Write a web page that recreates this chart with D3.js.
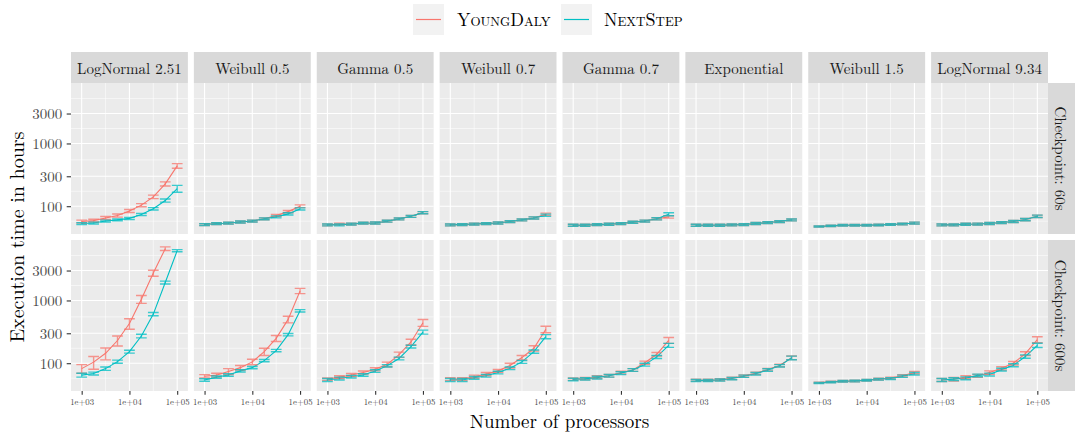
<!DOCTYPE html>
<html>
<head>
<meta charset="utf-8">
<script src="https://cdn.jsdelivr.net/npm/d3@7"></script>
<style>
  html, body { margin: 0; padding: 0; background: #ffffff; }
  svg { display: block; font-family: "Latin Modern Roman", "CMU Serif", "Liberation Serif", "Times New Roman", serif; }
</style>
</head>
<body>
<svg id="chart" width="1076" height="434"></svg>
<script>
// ---- data -------------------------------------------------------------
const distributions = ["LogNormal 2.51", "Weibull 0.5", "Gamma 0.5", "Weibull 0.7",
                       "Gamma 0.7", "Exponential", "Weibull 1.5", "LogNormal 9.34"];
const checkpoints = ["Checkpoint: 60s", "Checkpoint: 600s"];
const seriesNames = ["YoungDaly", "NextStep"];
const processors = [1000, 1778, 3162, 5623, 10000, 17783, 31623, 56234, 100000];
const yTicks = [100, 300, 1000, 3000];
const xTicks = [1000, 10000, 100000];
const xTickLabels = ["1e+03", "1e+04", "1e+05"];

// mean execution time (hours), one row per distribution
const youngDaly60 = [
  [57, 59, 65, 71, 84, 104, 141, 227, 440],
  [51, 53, 53.6, 56, 58, 63, 71, 82, 100],
  [50.4, 52, 52, 53.6, 54, 57.7, 62.8, 69, 79],
  [50.4, 51, 52, 53, 54, 57, 60.5, 65, 74.5],
  [49.8, 49.8, 51, 51.6, 53, 55.6, 58, 63, 67.6],
  [49.8, 49.8, 49.8, 50.4, 51, 53, 54.9, 57, 60.5],
  [47.4, 48.6, 49.8, 49.8, 49.8, 50.4, 51, 52, 54],
  [50.4, 50.4, 51.6, 52, 53, 54.9, 57, 61.3, 69]
];
const youngDaly60Sd = [
  [3, 3, 3.5, 4, 4.5, 6, 9, 17, 37],
  [1.8, 1.8, 1.8, 2, 2, 2.2, 2.8, 3.5, 5],
  [1.8, 1.8, 1.8, 1.8, 2, 2, 2.2, 2.5, 3],
  [1.8, 1.8, 1.8, 1.8, 2, 2, 2.2, 2.5, 3],
  [1.8, 1.8, 1.8, 1.8, 1.8, 2, 2, 2.5, 3],
  [1.8, 1.8, 1.8, 1.8, 1.8, 2, 2, 2, 2.2],
  [1, 1.2, 1.5, 1.5, 1.5, 1.5, 1.5, 1.5, 1.8],
  [1.8, 1.8, 1.8, 1.8, 2, 2, 2.2, 2.5, 3]
];
const nextStep60 = [
  [53, 54, 58, 60.5, 64, 74, 91, 123, 191],
  [51, 53, 53.6, 56, 58, 63, 67.6, 75.5, 90.6],
  [50.4, 50.4, 52, 53.6, 54, 57.7, 62.8, 69, 79],
  [50.4, 51, 52, 53, 54, 57, 60.5, 65, 71.9],
  [49.8, 49.8, 51, 51.6, 53, 55.6, 58, 63, 74.5],
  [49.8, 49.8, 49.8, 50.4, 51, 53, 54.9, 57, 60.5],
  [47.4, 48.6, 49.8, 49.8, 49.8, 50.4, 51, 52, 54],
  [50.4, 50.4, 51.6, 52, 53, 54.9, 57, 61.3, 69]
];
const nextStep60Sd = [
  [1.8, 1.8, 2, 2, 2.5, 3, 4, 7, 24],
  [1.8, 1.8, 1.8, 2, 2, 2.2, 2.5, 3, 3.5],
  [1.8, 1.8, 1.8, 1.8, 2, 2, 2.2, 2.5, 3],
  [1.8, 1.8, 1.8, 1.8, 2, 2, 2.2, 2.5, 3],
  [1.8, 1.8, 1.8, 1.8, 1.8, 2, 2, 2.5, 4],
  [1.8, 1.8, 1.8, 1.8, 1.8, 2, 2, 2, 2.2],
  [1, 1.2, 1.5, 1.5, 1.5, 1.5, 1.5, 1.5, 1.8],
  [1.8, 1.8, 1.8, 1.8, 2, 2, 2.2, 2.5, 3]
];
const youngDaly600 = [
  [82, 104, 144, 230, 430, 1048, 2730, 6700, null],
  [62, 64.6, 74, 85, 105, 153, 249, 499, 1422],
  [55.7, 60, 65, 71, 80, 96, 137, 218, 442],
  [55.7, 55.7, 61, 67, 75.5, 92, 123, 173, 347],
  [55.7, 57, 60, 63, 71, 78, 102, 139, 232],
  [53.5, 53.5, 54.5, 57.5, 62.5, 69, 79, 92, 122],
  [49, 50.6, 51.8, 52, 53.7, 55.7, 58, 63, 71],
  [54, 55.7, 60, 63, 71, 83, 100, 142, 238]
];
const youngDaly600Sd = [
  [13, 24, 31, 42, 82, 150, 300, 450, null],
  [3.8, 4.5, 8, 7, 10.5, 20, 27, 60, 136],
  [2.5, 3, 3.5, 4, 4.5, 8, 13, 23, 55],
  [3, 3, 3.5, 4, 4, 8, 10, 17, 42],
  [2.5, 2.5, 3, 3, 3.5, 4, 6, 9, 25],
  [2, 2, 2, 2.5, 2.5, 3, 3.5, 4, 8],
  [1, 1.2, 1.5, 1.5, 1.5, 1.8, 2, 2.5, 3],
  [3, 3.5, 3.5, 3.5, 4.5, 5, 6.5, 10, 26]
];
const nextStep600 = [
  [64.5, 68.5, 82, 106, 153, 271, 607, 1931, 6220],
  [54, 60, 65, 75.5, 85, 110, 159, 285, 685],
  [54, 57, 61, 65, 75, 91, 119, 184, 314],
  [54, 54, 58.5, 63, 71, 83, 105, 153, 265],
  [55, 56.5, 59, 63, 69.5, 78, 95, 126, 193],
  [53, 53, 54, 57, 62, 68, 78, 91, 121.6],
  [48.5, 50, 51.5, 52, 53.5, 55.5, 57, 62, 68],
  [54, 55.7, 57.6, 64, 66, 79, 93, 128, 193]
];
const nextStep600Sd = [
  [4.5, 3.5, 5, 6, 8, 18, 35, 100, 230],
  [2.5, 2.5, 3, 3, 3.5, 4.5, 7, 12, 30],
  [3, 3, 3, 3, 3.5, 4, 6, 9, 23],
  [3, 3, 3, 3, 3.5, 4, 5.5, 9, 20],
  [2.5, 2.5, 3, 3, 3.5, 4, 5, 7, 14],
  [2, 2, 2, 2.5, 2.5, 3, 3.5, 4, 8],
  [1, 1.2, 1.5, 1.5, 1.5, 1.8, 2, 2.5, 3],
  [3, 3, 3, 3, 3.5, 4, 5, 8, 15]
];

// ---- layout -----------------------------------------------------------
const colors = ["#F8766D", "#00BFC4"];
const plotLeft = 71, plotRight = 1048;
const stripTop = 52, stripH = 31, rightStripW = 27;
const gap = 6;
const nCol = distributions.length;
const panelW = (plotRight - plotLeft - gap * (nCol - 1)) / nCol;
const panelH = 151;
const panelTop0 = stripTop + stripH;

const means = [[youngDaly60, nextStep60], [youngDaly600, nextStep600]];
const sds = [[youngDaly60Sd, nextStep60Sd], [youngDaly600Sd, nextStep600Sd]];

// records per checkpoint / distribution / series
const records = [];
checkpoints.forEach((cp, r) => distributions.forEach((dist, c) => seriesNames.forEach((s, si) => {
  processors.forEach((p, k) => {
    const m = means[r][si][c][k];
    if (m == null) return;
    const sd = sds[r][si][c][k];
    records.push({ r, c, si, p, m, lo: m - sd, hi: m + sd });
  });
})));

// errorbar width: 0.9 x the spacing of processor counts (log10 units)
const lp = processors.map(Math.log10);
const step = d3.min(d3.pairs(lp), ([a, b]) => b - a);
const halfBar = 0.9 * step / 2;

// ggplot-style 5% expansion on log scales
function expand(lo, hi) { const d = (hi - lo) * 0.05; return [lo - d, hi + d]; }
const xLog = expand(d3.min(lp) - halfBar, d3.max(lp) + halfBar);
const yLog = expand(Math.log10(d3.min(records, d => d.lo)), Math.log10(d3.max(records, d => d.hi)));

const x = d3.scaleLog().domain(xLog.map(v => 10 ** v)).range([0, panelW]);
const y = d3.scaleLog().domain(yLog.map(v => 10 ** v)).range([panelH, 0]);

// minor breaks half-way between major breaks (in log space), extended once each side
function minorBreaks(majors, domainLog) {
  const b = majors.map(Math.log10);
  const bd = b[1] - b[0];
  const ext = [b[0] - bd, ...b, b[b.length - 1] + bd];
  const out = [];
  for (let i = 0; i < ext.length - 1; i++) out.push((ext[i] + ext[i + 1]) / 2);
  return out.filter(v => v > domainLog[0] && v < domainLog[1]).map(v => 10 ** v);
}
const yMinor = minorBreaks(yTicks, yLog);
const xMinor = minorBreaks(xTicks, xLog);

const svg = d3.select("#chart");

// ---- legend -----------------------------------------------------------
const legendItems = [{ key: 413, text: 457 }, { key: 561, text: 604 }];
seriesNames.forEach((s, i) => {
  const g = svg.append("g");
  g.append("rect").attr("x", legendItems[i].key).attr("y", 4).attr("width", 31).attr("height", 31).attr("fill", "#F2F2F2");
  g.append("line").attr("x1", legendItems[i].key + 3).attr("x2", legendItems[i].key + 28)
    .attr("y1", 19.5).attr("y2", 19.5).attr("stroke", colors[i]).attr("stroke-width", 1.2);
  g.append("text").attr("x", legendItems[i].text).attr("y", 26)
    .attr("font-size", 18).attr("fill", "#000").style("font-variant", "small-caps").text(s);
});

// ---- panels -----------------------------------------------------------
const line = d3.line().x(d => x(d.p)).y(d => y(d.m));

checkpoints.forEach((cp, r) => {
  const top = panelTop0 + r * (panelH + gap);
  distributions.forEach((dist, c) => {
    const left = plotLeft + c * (panelW + gap);
    const g = svg.append("g").attr("transform", `translate(${left},${top})`);

    g.append("rect").attr("width", panelW).attr("height", panelH).attr("fill", "#EBEBEB");

    // grid
    g.selectAll(".ymin").data(yMinor).join("line")
      .attr("x1", 0).attr("x2", panelW).attr("y1", d => y(d)).attr("y2", d => y(d))
      .attr("stroke", "#fff").attr("stroke-width", 0.55);
    g.selectAll(".xmin").data(xMinor).join("line")
      .attr("y1", 0).attr("y2", panelH).attr("x1", d => x(d)).attr("x2", d => x(d))
      .attr("stroke", "#fff").attr("stroke-width", 0.55);
    g.selectAll(".ymaj").data(yTicks).join("line")
      .attr("x1", 0).attr("x2", panelW).attr("y1", d => y(d)).attr("y2", d => y(d))
      .attr("stroke", "#fff").attr("stroke-width", 1.1);
    g.selectAll(".xmaj").data(xTicks).join("line")
      .attr("y1", 0).attr("y2", panelH).attr("x1", d => x(d)).attr("x2", d => x(d))
      .attr("stroke", "#fff").attr("stroke-width", 1.1);

    const recs = records.filter(d => d.r === r && d.c === c);

    // lines
    seriesNames.forEach((s, si) => {
      g.append("path").datum(recs.filter(d => d.si === si))
        .attr("d", line).attr("fill", "none").attr("stroke", colors[si]).attr("stroke-width", 1.1);
    });

    // error bars
    seriesNames.forEach((s, si) => {
      const eb = g.append("g").attr("stroke", colors[si]).attr("stroke-width", 1.4).attr("opacity", 0.75).attr("fill", "none");
      recs.filter(d => d.si === si).forEach(d => {
        const xl = x(d.p / 10 ** halfBar), xr = x(d.p * 10 ** halfBar), xc = x(d.p);
        eb.append("path").attr("d",
          `M${xl},${y(d.hi)}H${xr}M${xc},${y(d.hi)}V${y(d.lo)}M${xl},${y(d.lo)}H${xr}`);
      });
    });

    // column strips
    if (r === 0) {
      svg.append("rect").attr("x", left).attr("y", stripTop).attr("width", panelW).attr("height", stripH).attr("fill", "#D9D9D9");
      svg.append("text").attr("x", left + panelW / 2).attr("y", stripTop + stripH / 2)
        .attr("text-anchor", "middle").attr("dominant-baseline", "central")
        .attr("font-size", 15).attr("fill", "#1A1A1A").text(dist);
    }

    // y axis
    if (c === 0) {
      const ax = svg.append("g").attr("transform", `translate(${left},${top})`)
        .call(d3.axisLeft(y).tickValues(yTicks).tickFormat(d3.format("d")).tickSize(4.3).tickPadding(4.5))
        .attr("font-family", null).attr("font-size", 15);
      ax.select(".domain").remove();
      ax.selectAll("line").attr("stroke", "#333333").attr("stroke-width", 1.1);
      ax.selectAll("text").attr("fill", "#4D4D4D");
    }

    // x axis
    if (r === checkpoints.length - 1) {
      const ax = svg.append("g").attr("transform", `translate(${left},${top + panelH})`)
        .call(d3.axisBottom(x).tickValues(xTicks).tickFormat((d, i) => xTickLabels[i]).tickSize(3.7).tickPadding(4.5))
        .attr("font-family", null).attr("font-size", 8.8);
      ax.select(".domain").remove();
      ax.selectAll("line").attr("stroke", "#333333").attr("stroke-width", 1.1);
      ax.selectAll("text").attr("fill", "#4D4D4D");
    }
  });

  // row strip
  svg.append("rect").attr("x", plotRight).attr("y", top).attr("width", rightStripW).attr("height", panelH).attr("fill", "#D9D9D9");
  svg.append("text")
    .attr("transform", `translate(${plotRight + rightStripW / 2},${top + panelH / 2}) rotate(90)`)
    .attr("text-anchor", "middle").attr("dominant-baseline", "central")
    .attr("font-size", 15).attr("fill", "#1A1A1A").text(cp);
});

// ---- axis titles ------------------------------------------------------
svg.append("text").attr("x", (plotLeft + plotRight) / 2).attr("y", 428)
  .attr("text-anchor", "middle").attr("font-size", 19).attr("fill", "#000").text("Number of processors");
svg.append("text")
  .attr("transform", `translate(24,${panelTop0 + panelH + gap / 2}) rotate(-90)`)
  .attr("text-anchor", "middle").attr("font-size", 20).attr("fill", "#000").text("Execution time in hours");
</script>
</body>
</html>
